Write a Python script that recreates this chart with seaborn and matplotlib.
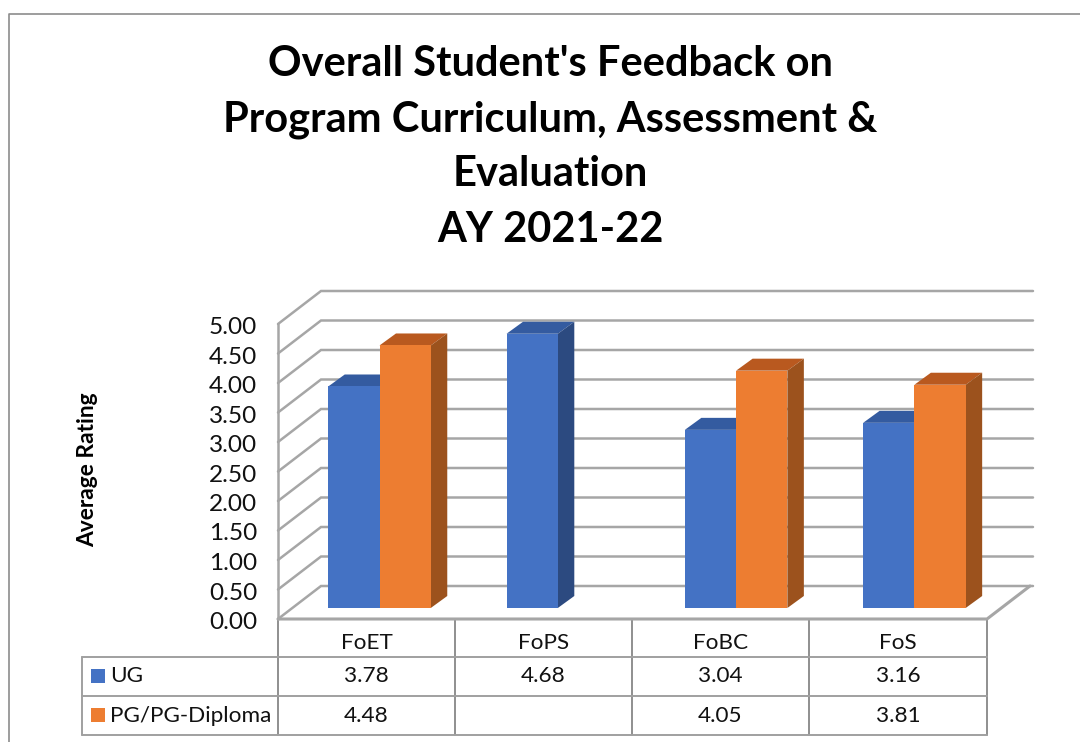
import matplotlib
matplotlib.use("Agg")
import matplotlib.pyplot as plt
from matplotlib.patches import Polygon, Rectangle
from matplotlib.transforms import ScaledTranslation
import pandas as pd
import numpy as np
import seaborn as sns

categories = ["FoET", "FoPS", "FoBC", "FoS"]
ug_values = [3.78, 4.68, 3.04, 3.16]
pg_values = [4.48, np.nan, 4.05, 3.81]
series_names = ["UG", "PG/PG-Diploma"]
ticks = [0.0, 0.5, 1.0, 1.5, 2.0, 2.5, 3.0, 3.5, 4.0, 4.5, 5.0]
title = "Overall Student's Feedback on\nProgram Curriculum, Assessment &\nEvaluation\nAY 2021-22"
ylabel = "Average Rating"
BLUE, ORANGE = "#4472C4", "#ED7D31"
BLUE_TOP, BLUE_SIDE = "#345BA0", "#2C4A80"
ORANGE_TOP, ORANGE_SIDE = "#B9591F", "#9C521D"
GRID = "#A6A6A6"

W, H = 1080, 742
sns.set_theme(style="white")
plt.rcParams["font.family"] = ["Lato", "DejaVu Sans"]
fig = plt.figure(figsize=(W / 100, H / 100), dpi=100)


def px_axes(x0, x1, ytop, ybot, z=1):
    a = fig.add_axes([x0 / W, 1 - ybot / H, (x1 - x0) / W, (ybot - ytop) / H], zorder=z)
    a.patch.set_alpha(0)
    return a


# overlay in pixel units for frame and table
ov = fig.add_axes([0, 0, 1, 1], zorder=0)
ov.set_xlim(0, W)
ov.set_ylim(H, 0)
ov.axis("off")
ov.plot([9, 9, 1080], [742, 13.5, 13.5], color="#8C8C8C", lw=1.2)

# front plane axes: value scale
X0, X1, Y5, Y0 = 278, 987, 324, 619
ax = px_axes(X0, X1, Y5, Y0, z=1)
ax.set_xlim(-0.5, 3.5)
ax.set_ylim(0, 5)
ux = (X1 - X0) / 4
uy = (Y0 - Y5) / 5
ddx, ddy = 43 / ux, 33 / uy
right_end = 3.5 + 46 / ux
for t in ticks:
    ax.plot([-0.5, -0.5 + ddx, right_end], [t, t + ddy, t + ddy], color=GRID, lw=1.8,
            clip_on=False, solid_joinstyle="miter")
ax.plot([-0.5, -0.5], [0, 5], color=GRID, lw=1.8, clip_on=False)
ax.plot([-0.5, 3.5, 3.5 + ddx], [0, 0, ddy], color=GRID, lw=2.2, clip_on=False)
ax.set_yticks(ticks)
ax.set_yticklabels([f"{t:.2f}" for t in ticks], fontsize=17.6, color="#111111")
ax.tick_params(axis="y", length=0, pad=15)
shift = ScaledTranslation(0, -1.5 / 100, fig.dpi_scale_trans)
for lab in ax.get_yticklabels():
    lab.set_transform(lab.get_transform() + shift)
ax.set_xticks([])
sns.despine(ax=ax, left=True, bottom=True)
ax.set_ylabel(ylabel, fontsize=16.4, fontweight="bold", color="black", labelpad=0)
ax.yaxis.set_label_coords((98 - X0) / (X1 - X0), (Y0 - 470) / (Y0 - Y5))

# bars: same value scale, shifted onto the floor
BAR_X0, BAR_X1, BAR_YTOP, BAR_YBOT = 290.35, 1003.55, 315, 608
axb = px_axes(BAR_X0, BAR_X1, BAR_YTOP, BAR_YBOT, z=2)
df = pd.DataFrame({
    "cat": categories * 2,
    "val": ug_values + pg_values,
    "series": [series_names[0]] * 4 + [series_names[1]] * 4,
})
sns.barplot(data=df, x="cat", y="val", hue="series", order=categories, hue_order=series_names,
            palette=[BLUE, ORANGE], width=0.575, gap=0, saturation=1, legend=False, ax=axb,
            linewidth=0)
axb.set_xlim(-0.5, 3.5)
axb.set_ylim(0, 5)
axb.axis("off")
bx, by = 16.5 / ((BAR_X1 - BAR_X0) / 4), 12 / ((BAR_YBOT - BAR_YTOP) / 5)
conts = list(axb.containers)
for c, top, side in zip(conts, [BLUE_TOP, ORANGE_TOP], [BLUE_SIDE, ORANGE_SIDE]):
    for r in c.patches:
        h = r.get_height()
        if not np.isfinite(h) or h <= 0:
            continue
        x, w = r.get_x(), r.get_width()
        r.set_zorder(3 if c is conts[1] else 2.5)
        axb.add_patch(Polygon([(x, h), (x + bx, h + by), (x + w + bx, h + by), (x + w, h)],
                              facecolor=top, edgecolor="none", zorder=2 if c is conts[0] else 2.7,
                              clip_on=False))
        axb.add_patch(Polygon([(x + w, 0), (x + w + bx, by), (x + w + bx, h + by), (x + w, h)],
                              facecolor=side, edgecolor="none", zorder=2 if c is conts[0] else 2.7,
                              clip_on=False))

# data table
TV = [278, 455, 632, 809, 987]
for x_ in TV:
    ov.plot([x_, x_], [619, 735], color="#8F8F8F", lw=1.4)
ov.plot([82, 82], [657, 735], color="#A0A0A0", lw=1.4)
for y_ in [657, 696, 735]:
    ov.plot([82, 987], [y_, y_], color="#A0A0A0", lw=1.4)
font = 16.2
for i, cat in enumerate(categories):
    xc = (TV[i] + TV[i + 1]) / 2
    ov.text(xc, 643, cat, ha="center", va="center", fontsize=font, color="#111111")
    ov.text(xc, 676.5, f"{ug_values[i]:.2f}", ha="center", va="center", fontsize=font, color="#111111")
    if np.isfinite(pg_values[i]):
        ov.text(xc, 715.5, f"{pg_values[i]:.2f}", ha="center", va="center", fontsize=font, color="#111111")
for name, col, yc in zip(series_names, [BLUE, ORANGE], [675.5, 714.5]):
    ov.add_patch(Rectangle((91, yc - 7), 14, 14, facecolor=col, edgecolor="none"))
    ov.text(110, yc + 1, name, ha="left", va="center", fontsize=font, color="#111111")

# title
for line, yc in zip(title.split("\n"), [64.5, 119.5, 174.5, 229.5]):
    ov.text(550, yc, line, ha="center", va="center", fontsize=30, fontweight="bold", color="black")

fig.savefig("out.png", dpi=100, facecolor="white")
